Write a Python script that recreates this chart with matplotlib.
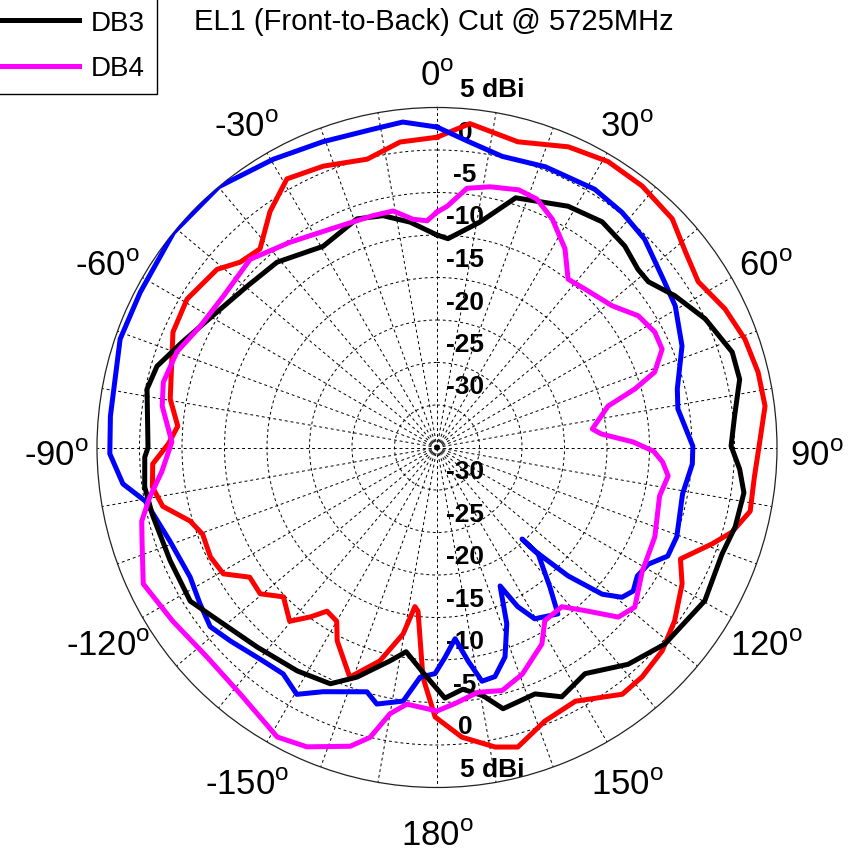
import numpy as np
import matplotlib.pyplot as plt
from matplotlib.transforms import offset_copy

plt.rcParams['font.family'] = ['Liberation Sans', 'DejaVu Sans']
plt.rcParams['mathtext.fontset'] = 'custom'
plt.rcParams['mathtext.rm'] = 'Liberation Sans'

# angle in degrees, clockwise from front (0 = top), gain in dBi
db1_ang = [0, 5.8, 14.8, 23.6, 30.9, 38.1, 45.8, 51.8, 57.6, 64.3, 70.6, 76.8, 82.8, 89.7,
           95.3, 101.5, 106.0, 109.3, 114.6, 119.1, 126.1, 132.1, 138.2, 143.1, 151.4, 158.5,
           164.9, 169.0, 175.1, 180.4, 183.5, 186.6, 187.9, 190.3, 195.0, 200.8, 207.3, 210.0,
           213.9, 216.8, 220.3, 225.8, 230.4, 235.3, 239.4, 244.2, 249.7, 253.4, 257.9, 262.1,
           266.7, 270.8, 274.7, 280.3, 293.6, 300.7, 309.0, 313.3, 318.3, 324.7, 330.8, 338.0,
           346.4, 353.1, 360]
db1_gain = [1.5, 3.3, 2.2, 3.6, 4.2, 4.1, 3.6, 2.2, 1.4, 2.6, 3.4, 3.8, 3.9, 2.9,
            2.5, 2.6, 1.1, -0.7, -3.5, -2.0, -0.4, 0.7, 1.2, 1.3, -1.0, -0.4,
            1.5, 0.9, -0.8, -3.3, -7.9, -15.6, -16.1, -12.7, -9.0, -6.1, -9.4, -11.4,
            -11.8, -10.1, -8.2, -9.8, -8.0, -8.2, -5.8, -5.4, -5.6, -4.7, -2.0, -1.2,
            -1.5, -3.4, -4.4, -3.1, -1.1, -0.8, -1.7, -3.2, -3.7, -1.0, 1.2, 0.7,
            -0.1, 1.2, 1.5]

db2_ang = [0, 5.8, 12.6, 21.1, 31.4, 38.2, 44.9, 54.0, 59.3, 67.5, 76.3, 80.9, 89.7, 93.7,
           100.7, 110.4, 115.2, 118.9, 122.7, 126.2, 129.0, 131.6, 134.4, 136.6, 137.1, 136.5,
           141.0, 144.0, 150.3, 153.1, 155.5, 158.4, 162.0, 165.8, 169.1, 171.7, 174.6, 177.8,
           180.5, 184.2, 187.6, 193.2, 196.0, 205.0, 209.6, 214.2, 219.2, 226.9, 231.7, 236.6,
           242.3, 250.7, 259.6, 263.4, 268.9, 275.5, 288.9, 297.6, 309.2, 320.1, 330.4, 339.5,
           348.6, 354.0, 360]
db2_gain = [2.7, 1.2, 0.1, 0.4, 0.6, 0.2, -0.4, -1.9, -2.4, -3.8, -5.9, -6.3, -4.9, -4.9,
            -5.6, -4.9, -5.0, -6.6, -7.0, -6.4, -7.0, -9.0, -13.4, -18.2, -20.3, -17.7,
            -13.9, -10.8, -11.8, -14.0, -17.1, -12.7, -9.1, -7.2, -7.0, -9.6, -12.4, -10.3,
            -8.4, -7.9, -4.9, -4.0, -5.1, -3.3, -1.6, -2.8, -2.6, -1.7, -1.0, -1.6,
            -2.2, -1.7, -0.1, 2.2, 3.5, 3.6, 4.4, 4.4, 5.0, 5.0, 4.0, 3.4,
            3.2, 3.5, 2.7]

db3_ang = [0, 3.0, 10.8, 17.5, 28.5, 36.2, 43.0, 48.4, 51.9, 57.5, 64.4, 72.1, 77.3, 84.0,
           89.7, 94.1, 98.4, 104.9, 110.5, 119.8, 130.8, 138.6, 146.8, 153.4, 158.3, 165.8,
           169.5, 173.9, 178.2, 183.6, 188.6, 192.4, 199.2, 204.3, 212.0, 222.0, 230.5, 238.1,
           247.0, 256.6, 262.3, 268.1, 270.0, 281.4, 286.2, 292.6, 301.6, 310.4, 319.2, 330.5,
           340.7, 346.9, 353.2, 360]
db3_gain = [-10.0, -10.4, -8.0, -4.2, -2.7, -2.1, -2.6, -3.4, -3.4, -1.8, 0.0, 1.5, 1.5, 0.2,
            -0.4, 0.7, 1.5, 1.3, 0.8, 1.3, 0.4, -1.0, -3.2, -2.2, -3.8, -3.3,
            -5.3, -6.4, -5.5, -8.5, -10.7, -9.3, -6.4, -4.5, -4.0, -3.4, -2.4, -0.8,
            -0.9, -0.6, -0.3, -0.6, -1.0, -0.2, -0.7, -2.6, -4.6, -5.7, -6.2, -7.8,
            -6.5, -7.0, -8.3, -10.0]

db4_ang = [0, 2.4, 6.6, 11.5, 17.6, 21.9, 26.8, 32.8, 37.9, 43.0, 51.0, 56.8, 62.1, 66.4,
           70.9, 73.5, 76.4, 83.2, 85.3, 88.4, 91.0, 93.7, 97.0, 102.3, 112.3, 121.1, 128.9,
           133.1, 137.8, 141.9, 148.1, 151.9, 159.4, 165.0, 170.5, 176.0, 180.0, 186.7, 190.0,
           193.0, 196.2, 203.5, 208.9, 218.6, 227.7, 236.7, 245.1, 251.9, 256.0, 260.2, 265.0,
           271.2, 278.6, 283.4, 290.2, 297.1, 305.3, 315.2, 324.4, 333.9, 344.5, 349.5, 354.0,
           357.5, 360]
db4_gain = [-7.3, -6.6, -4.3, -3.7, -3.2, -3.5, -4.9, -7.2, -9.9, -9.5, -8.5, -6.7, -6.0, -6.1,
            -7.9, -10.7, -14.3, -16.6, -15.6, -11.9, -9.5, -8.4, -7.6, -8.2, -7.3, -6.8, -5.1,
            -5.8, -9.1, -11.2, -11.0, -8.8, -6.5, -5.4, -5.8, -4.8, -4.0, -4.6, -3.2,
            0.0, 1.6, 3.4, 3.9, 2.1, 1.6, 2.2, 3.1, 1.5, 0.8, -0.7, -2.5,
            -3.8, -2.3, -1.9, -2.4, -3.7, -4.2, -3.8, -5.3, -6.4, -6.7, -6.7, -8.0,
            -8.3, -7.3]

ring_vals = [5, 0, -5, -10, -15, -20, -25, -30]
ring_text = ['5 dBi', '0', '-5', '-10', '-15', '-20', '-25', '-30']
angle_ticks = [0, 30, 60, 90, 120, 150, 180, -150, -120, -90, -60, -30]

fig = plt.figure(figsize=(8.59, 8.54), dpi=100)
ax = fig.add_axes([97 / 859, 65.5 / 854, 680 / 859, 680 / 854], projection='polar')
ax.set_theta_zero_location('N')
ax.set_theta_direction(-1)
ax.set_ylim(-35, 5)

ax.set_xticks(np.deg2rad(np.arange(0, 360, 10)))
ax.set_xticklabels([])
ax.set_yticks(ring_vals[1:])
ax.set_yticklabels([])
ax.grid(True, color='black', linestyle=(0, (3, 3)), linewidth=0.7)
ax.spines['polar'].set_linewidth(0.9)
ax.spines['polar'].set_color('#222222')

# draw order: later curves sit on top
ax.plot(np.deg2rad(db1_ang), db1_gain, color='#ff0000', lw=3.6, zorder=3)
ax.plot(np.deg2rad(db2_ang), db2_gain, color='#0000ff', lw=3.6, zorder=3)
l3, = ax.plot(np.deg2rad(db3_ang), db3_gain, color='black', lw=3.6, zorder=3)
l4, = ax.plot(np.deg2rad(db4_ang), db4_gain, color='#ff00ff', lw=3.6, zorder=3)

# radial labels along the 0 and 180 degree spokes
for th in (0, np.pi):
    for v, s in zip(ring_vals, ring_text):
        if s.endswith('dBi'):
            tr = offset_copy(ax.transData, fig=fig, x=23, y=18.5, units='dots')
            ax.text(th, v, s, transform=tr, ha='left', va='center',
                    fontsize=19, fontweight='bold', zorder=2)
        else:
            tr = offset_copy(ax.transData, fig=fig, x=28, y=18.5, units='dots')
            ax.text(th, v, s, transform=tr, ha='center', va='center',
                    fontsize=19, fontweight='bold', zorder=2)

# angle labels outside the circle
for a in angle_ticks:
    t = np.deg2rad(a)
    ax.text(0.5 + 0.559 * np.sin(t), 0.5 + 0.559 * np.cos(t) - 8 / 680,
            '%d$^{\\mathrm{o}}$' % a, transform=ax.transAxes,
            ha='center', va='center', fontsize=25)

fig.text(434 / 859, 1 - 22 / 854, 'EL1 (Front-to-Back) Cut @ 5725MHz',
         ha='center', va='center', fontsize=21)

fig.legend([l3, l4], ['DB3', 'DB4'], loc='lower right',
           bbox_to_anchor=(157 / 859, 1 - 95 / 854), bbox_transform=fig.transFigure,
           fontsize=20, handlelength=3.2, handletextpad=0.4, borderpad=0.45,
           labelspacing=0.7, borderaxespad=0, fancybox=False,
           edgecolor='black', framealpha=1)

fig.savefig('out.png', dpi=100)
